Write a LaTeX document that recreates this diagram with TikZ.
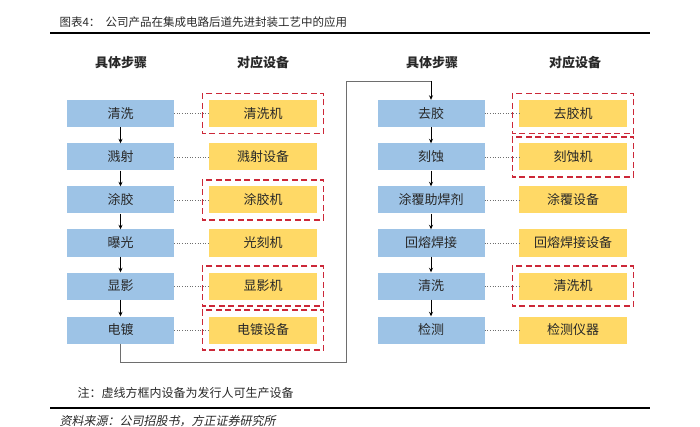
\documentclass[tikz,border=0pt]{standalone}
\usepackage{fontspec}
\setmainfont{Noto Sans CJK SC}
\newfontfamily\cjk{Noto Sans CJK SC}
\newfontfamily\cjkslant[FakeSlant=0.2]{Noto Sans CJK SC}
\usetikzlibrary{arrows.meta}
\definecolor{stepblue}{RGB}{157,195,230}
\definecolor{equipyellow}{RGB}{255,217,102}
\definecolor{dashred}{RGB}{204,40,56}
\definecolor{linegray}{RGB}{110,110,110}
\definecolor{txt}{RGB}{40,40,40}
\begin{document}
\begin{tikzpicture}[x=1pt,y=-1pt,
  stepbox/.style={fill=stepblue,minimum width=107pt,minimum height=27pt,inner sep=0pt,font=\cjk\fontsize{13}{13}\selectfont,text=txt},
  equipbox/.style={fill=equipyellow,minimum width=108pt,minimum height=27pt,inner sep=0pt,font=\cjk\fontsize{13}{13}\selectfont,text=txt},
  redframe/.style={draw=dashred,line width=1.5pt,dash pattern=on 6pt off 3.5pt},
  link/.style={draw=linegray,line width=0.6pt,dotted},
  flow/.style={draw=black,line width=0.7pt,-{Stealth[length=4.5pt,width=4pt]}},
  head/.style={font=\cjk\bfseries\fontsize{13}{13}\selectfont,text=txt},
  route/.style={draw=linegray,line width=0.8pt}]
\useasboundingbox (0,0) rectangle (700,427);
% title
\node[anchor=west,font=\cjk\fontsize{11.5}{11.5}\selectfont,text=txt] (title) at (56,22) {图表4：\ \ 公司产品在集成电路后道先进封装工艺中的应用};
\draw[line width=1.4pt] (50,33) -- (650,33);
% headers
\node[head] (h1) at (121,63) {具体步骤};
\node[head] (h2) at (263,63) {对应设备};
\node[head] (h3) at (432,63) {具体步骤};
\node[head] (h4) at (575,63) {对应设备};
% left steps
\node[stepbox] (a1) at (120.5,113.5) {清洗};
\node[stepbox] (a2) at (120.5,157) {溅射};
\node[stepbox] (a3) at (120.5,200) {涂胶};
\node[stepbox] (a4) at (120.5,243) {曝光};
\node[stepbox] (a5) at (120.5,286) {显影};
\node[stepbox] (a6) at (120.5,330) {电镀};
\node[equipbox] (e1) at (263,113.5) {清洗机};
\node[equipbox] (e2) at (263,157) {溅射设备};
\node[equipbox] (e3) at (263,200) {涂胶机};
\node[equipbox] (e4) at (263,243) {光刻机};
\node[equipbox] (e5) at (263,286) {显影机};
\node[equipbox] (e6) at (263,330) {电镀设备};
% right steps
\node[stepbox] (b1) at (431,113.5) {去胶};
\node[stepbox] (b2) at (431,157) {刻蚀};
\node[stepbox] (b3) at (431,200) {涂覆助焊剂};
\node[stepbox] (b4) at (431,243) {回熔焊接};
\node[stepbox] (b5) at (431,286) {清洗};
\node[stepbox] (b6) at (431,330) {检测};
\node[equipbox] (f1) at (573,113.5) {去胶机};
\node[equipbox] (f2) at (573,157) {刻蚀机};
\node[equipbox] (f3) at (573,200) {涂覆设备};
\node[equipbox] (f4) at (573,243) {回熔焊接设备};
\node[equipbox] (f5) at (573,286) {清洗机};
\node[equipbox] (f6) at (573,330) {检测仪器};
% dotted links
\foreach \i in {1,...,6}{
  \draw[link] (a\i.east) -- (e\i.west);
  \draw[link] (b\i.east) -- (f\i.west);
}
% red dashed frames
\foreach \n in {e1,e3,e5,e6,f1,f2,f5}{
  \draw[redframe] ([xshift=-6.5pt,yshift=6.5pt]\n.north west) rectangle ([xshift=6.5pt,yshift=-6.5pt]\n.south east);
}
% flow arrows
\foreach \i/\j in {1/2,2/3,3/4,4/5,5/6}{
  \draw[flow] (a\i.south) -- (a\j.north);
  \draw[flow] (b\i.south) -- (b\j.north);
}
\coordinate (c1) at (120.5,362);
\coordinate (c2) at (346,362);
\coordinate (c3) at (346,81);
\coordinate (c4) at (431,81);
\draw[route] (a6.south) -- (c1) -- (c2) -- (c3) -- (c4);
\draw[flow] (c4) -- (b1.north);
% notes
\node[anchor=west,font=\cjk\fontsize{12}{12}\selectfont,text=txt] (note) at (74,393) {注：虚线方框内设备为发行人可生产设备};
\draw[line width=1.4pt] (50,408) -- (650,408);
\node[anchor=west,font=\cjkslant\fontsize{12}{12}\selectfont,text=txt] (src) at (56,421) {资料来源：公司招股书，方正证券研究所};
\end{tikzpicture}
\end{document}
